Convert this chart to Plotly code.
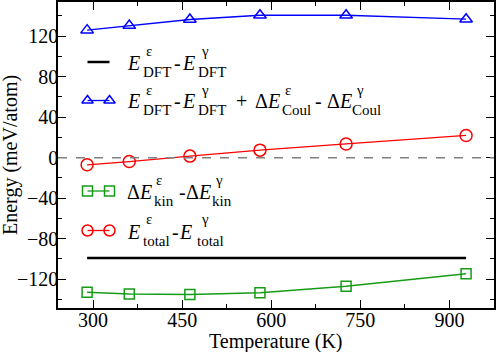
import plotly.graph_objects as go

# ---- data ----
temperature = [290, 361, 463, 581, 726, 928]
e_dft = [-99, -99, -99, -99, -99, -99]
e_dft_coul = [126.0, 130.5, 136.5, 140.7, 140.7, 136.8]
e_kin = [-132.8, -134.6, -135.0, -133.3, -127.0, -114.5]
e_total = [-7.0, -3.8, 1.6, 7.5, 13.6, 22.0]

x_ticks = [300, 450, 600, 750, 900]
y_ticks = [-120, -80, -40, 0, 40, 80, 120]

BLUE = "#0000ff"
RED = "#ff0000"
GREEN = "#169b16"
FONT = "Liberation Serif"

W, H = 498, 352
L, R, T, B = 58, 4, 2, 44
PW, PH = W - L - R, H - T - B


def px(x):
    return (x - L) / PW


def py(y):
    return (H - B - y) / PH


fig = go.Figure()

fig.add_trace(go.Scatter(x=temperature, y=e_dft, mode="lines",
                         line=dict(color="black", width=2.5), showlegend=False))
fig.add_trace(go.Scatter(x=temperature, y=e_dft_coul, mode="lines+markers",
                         line=dict(color=BLUE, width=1.3),
                         marker=dict(symbol="triangle-up-open", size=11, color=BLUE,
                                     line=dict(width=1.5)), showlegend=False))
fig.add_trace(go.Scatter(x=temperature, y=e_kin, mode="lines+markers",
                         line=dict(color=GREEN, width=1.5),
                         marker=dict(symbol="square-open", size=10, color=GREEN,
                                     line=dict(width=1.5)), showlegend=False))
fig.add_trace(go.Scatter(x=temperature, y=e_total, mode="lines+markers",
                         line=dict(color=RED, width=1.3),
                         marker=dict(symbol="circle-open", size=12, color=RED,
                                     line=dict(width=1.5)), showlegend=False))

fig.add_hline(y=0, line=dict(color="#808080", width=1.3, dash="dash"))

# ---- custom legend (stacked super/subscripts like the original) ----
legend_rows = [
    # (row y px, color, symbol)
    (62, "black", None),
    (100.5, BLUE, "triangle-up-open"),
    (191, GREEN, "square-open"),
    (230.5, RED, "circle-open"),
]
for ry, col, sym in legend_rows:
    fig.add_trace(go.Scatter(
        x=[px(87.5), px(109.5)], y=[py(ry), py(ry)], xaxis="x2", yaxis="y2",
        mode="lines+markers" if sym else "lines",
        line=dict(color=col, width=2.5 if sym is None else 1.3),
        marker=dict(symbol=sym or "circle", size=10 if sym != "circle-open" else 11,
                    color=col, line=dict(width=1.5)),
        showlegend=False, hoverinfo="skip"))

# pieces: (text, left x px, kind) kind: m=main, p=super, b=sub
legend_text = [
    (62, [("<i>E</i>", 126, "m"), ("ε", 144.5, "p"), ("DFT", 141.5, "b"),
          ("-", 173, "m"),
          ("<i>E</i>", 180.5, "m"), ("γ", 199.5, "p"), ("DFT", 196.5, "b")]),
    (100.5, [("<i>E</i>", 126, "m"), ("ε", 144.5, "p"), ("DFT", 141.5, "b"),
             ("-", 173, "m"),
             ("<i>E</i>", 180.5, "m"), ("γ", 199.5, "p"), ("DFT", 196.5, "b"),
             ("+", 235, "m"),
             ("Δ<i>E</i>", 254, "m"), ("ε", 284, "p"), ("Coul", 281, "b"),
             ("-", 314, "m"),
             ("Δ<i>E</i>", 325.5, "m"), ("γ", 355, "p"), ("Coul", 351, "b")]),
    (191, [("Δ<i>E</i>", 126, "m"), ("ε", 155, "p"), ("kin", 152.5, "b"),
           ("-", 178, "m"),
           ("Δ<i>E</i>", 184.5, "m"), ("γ", 214, "p"), ("kin", 211, "b")]),
    (230.5, [("<i>E</i>", 126, "m"), ("ε", 144.5, "p"), ("total", 141.5, "b"),
             ("-", 171, "m"),
             ("<i>E</i>", 178, "m"), ("γ", 199.5, "p"), ("total", 196, "b")]),
]
for ry, pieces in legend_text:
    for txt, x0, kind in pieces:
        if kind == "m":
            yy, sz = ry + 1, 20
        elif kind == "p":
            yy, sz = ry - 11, 15
        else:
            yy, sz = ry + 10, 15
        fig.add_annotation(x=px(x0), y=py(yy), xref="paper", yref="paper",
                           text=txt, showarrow=False, xanchor="left", yanchor="middle",
                           borderpad=0, font=dict(family=FONT, size=sz, color="black"))

# axis titles as annotations (placed like the original)
fig.add_annotation(x=0.5, y=py(341), xref="paper", yref="paper", text="Temperature (K)",
                   showarrow=False, xanchor="center", yanchor="middle", borderpad=0,
                   font=dict(family=FONT, size=20, color="black"))
fig.add_annotation(x=px(10), y=0.5, xref="paper", yref="paper", text="Energy (meV/atom)",
                   showarrow=False, xanchor="center", yanchor="middle", textangle=-90,
                   borderpad=0, font=dict(family=FONT, size=20, color="black"))

axis_common = dict(showline=True, linecolor="black", linewidth=1.5, mirror="allticks",
                   ticks="inside", tickcolor="black", tickwidth=1.2, showgrid=False,
                   zeroline=False, automargin=False,
                   tickfont=dict(family=FONT, size=20, color="black"))

fig.update_layout(
    width=W, height=H, margin=dict(l=L, r=R, t=T, b=B),
    paper_bgcolor="white", plot_bgcolor="white",
    font=dict(family=FONT, color="black"),
    xaxis=dict(range=[241, 975], tickvals=x_ticks, ticklen=8, ticklabelstandoff=-7,
               minor=dict(dtick=75, tick0=300, ticks="inside", ticklen=4,
                          tickcolor="black", tickwidth=1.2), **axis_common),
    yaxis=dict(range=[-148.4, 153.8], tickvals=y_ticks, ticklen=8, ticklabelstandoff=-6,
               minor=dict(dtick=20, tick0=0, ticks="inside", ticklen=4,
                          tickcolor="black", tickwidth=1.2), **axis_common),
    xaxis2=dict(range=[0, 1], domain=[0, 1], overlaying="x", visible=False),
    yaxis2=dict(range=[0, 1], domain=[0, 1], overlaying="y", visible=False),
)

fig.write_html("out.html", config={"displayModeBar": False},
               post_script="document.body.style.margin='0';document.body.style.padding='0';")
